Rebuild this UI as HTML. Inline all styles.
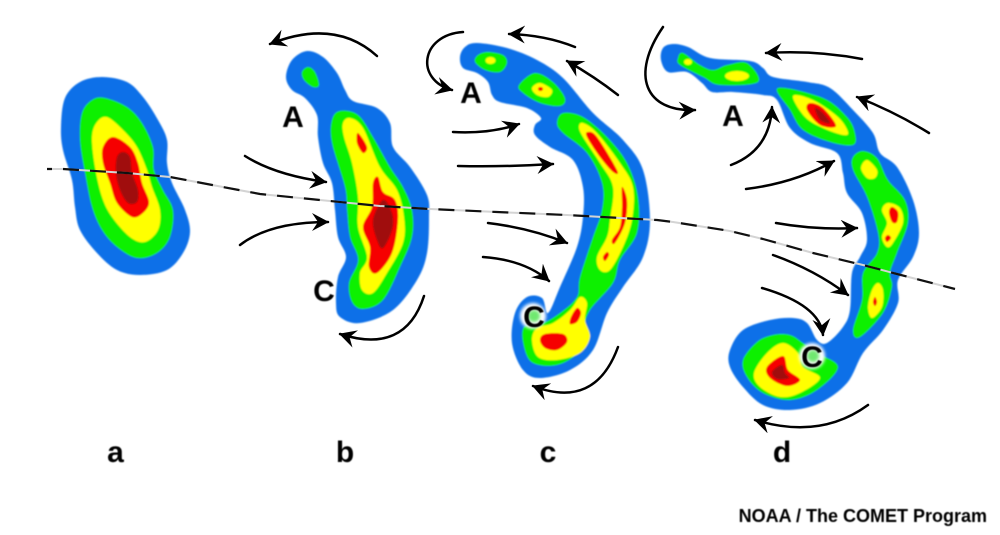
<!DOCTYPE html>
<html><head><meta charset="utf-8"><style>
html,body{margin:0;padding:0;background:#fff}
svg{display:block}
text{font-family:"Liberation Sans",sans-serif;font-weight:bold;fill:#000}
.B{fill:#0b6fe8}.G{fill:#08f000}.Y{fill:#ffff00}.R{fill:#f60000}.D{fill:#a00808}
.ar{fill:none;stroke:#000;stroke-width:2.5;marker-end:url(#h);stroke-linecap:round}
</style></head><body>
<svg id="s" width="1000" height="535" viewBox="0 0 1000 535" xmlns="http://www.w3.org/2000/svg">
<defs>
<marker id="h" markerUnits="userSpaceOnUse" markerWidth="22" markerHeight="22" refX="16" refY="9" orient="auto"><path d="M0,0 L17,9 L0,18 L6,9 Z" fill="#000"/></marker>
<filter id="f" x="-5%" y="-5%" width="110%" height="110%"><feGaussianBlur stdDeviation="0.9"/></filter>
<filter id="g" x="-50%" y="-50%" width="200%" height="200%"><feGaussianBlur stdDeviation="1.6"/></filter>
<filter id="t" x="-10%" y="-10%" width="120%" height="120%"><feGaussianBlur stdDeviation="0.45"/></filter>
</defs>
<rect width="1000" height="535" fill="#fff"/>
<g filter="url(#f)">
<!-- a -->
<polygon class="B" points="102,77 127,82 143,97 158,120 167,140 167,163 172,183 185,210 190,232 183,253 167,270 140,275 117,270 97,253 80,230 75,207 72,180 63,150 61,127 65,98 80,82"/>
<polygon class="G" points="105,98 127,107 142,123 153,147 154,170 163,190 173,210 170,237 157,253 137,258 117,247 102,230 92,207 85,173 80,140 82,113 92,100"/>
<polygon class="Y" points="107,117 123,130 137,147 147,170 152,187 160,210 158,230 145,242 130,237 112,217 102,197 95,167 92,137 97,122"/>
<polygon class="R" points="113,137 130,147 138,163 142,183 149,202 143,213 132,217 117,203 110,183 103,163 103,147"/>
<polygon class="D" points="123,152 130,157 132,173 138,190 137,202 128,203 120,190 116,173 117,157"/>
<!-- b -->
<polygon class="B" points="307,51 323,57 337,73 345,90 353,101 377,108 390,123 393,147 410,167 427,195 429,217 427,253 417,280 393,310 360,323 340,317 336,303 338,277 346,257 338,237 335,210 332,183 323,163 318,137 317,115 305,98 292,90 286,77 292,60"/>
<polygon class="G" points="308,67 315,72 319,85 313,87 304,80 302,72"/>
<polygon class="G" points="340,111 358,115 373,137 390,167 403,187 412,210 412,237 400,267 383,300 363,309 352,302 349,283 358,260 350,237 347,210 345,187 332,143 332,120"/>
<polygon class="Y" points="350,118 363,128 380,167 397,190 404,217 403,243 387,273 373,293 362,290 360,273 367,257 358,227 358,197 352,163 344,137 343,123"/>
<polygon class="R" points="358,133 367,147 363,153 357,143"/>
<polygon class="R" points="378,177 383,192 395,200 398,220 392,253 377,273 369,267 370,247 363,227 372,207 373,183"/>
<polygon class="D" points="383,200 392,213 392,230 383,248 377,240 373,220"/>
<!-- c -->
<polygon class="B" points="477,43 507,48 537,60 563,78 593,113 623,140 643,170 650,220 643,257 623,287 607,313 593,350 570,370 540,378 523,370 512,343 515,313 527,297 542,298 548,313 560,287 577,247 583,217 583,187 573,160 550,147 535,135 535,125 541,118 527,108 500,102 492,95 488,82 477,73 463,68 460,57 465,47"/>
<polygon class="G" points="488,52 503,55 507,63 500,72 485,70 475,62 478,55"/>
<ellipse class="Y" cx="490.5" cy="60.5" rx="5" ry="3.5"/>
<polygon class="G" points="535,73 553,82 565,98 560,106 540,103 523,93 519,85"/>
<polygon class="Y" points="540,83 552,90 548,97 537,95 532,88"/>
<ellipse class="R" cx="540.5" cy="89" rx="2.5" ry="2"/>
<polygon class="G" points="563,113 583,117 607,137 627,163 638,197 637,233 620,260 613,283 590,310 583,330 577,353 557,365 533,363 524,347 524,327 543,323 560,313 577,297 580,277 593,237 602,210 602,183 587,153 563,133 557,123"/>
<polygon class="Y" points="583,123 597,133 620,163 633,187 632,220 623,247 610,270 600,270 597,257 607,237 610,220 613,187 600,163 583,137 579,127"/>
<polygon class="R" points="588,132 597,137 617,170 613,172 600,157 587,137"/>
<polygon class="R" points="622,187 627,200 625,223 615,243 612,240 620,227 622,207"/>
<polygon class="R" points="607,252 609,255 605,261 603,257"/>
<polygon class="Y" points="580,297 587,303 585,320 590,337 580,353 557,360 538,357 532,340 537,328 553,323 570,310"/>
<polygon class="R" points="577,308 581,313 577,322 570,324 571,317"/>
<polygon class="R" points="545,334 563,334 567,342 557,350 545,348 540,340"/>
<!-- d -->
<polygon class="B" points="673,44 688,47 710,58 750,61 763,68 773,77 807,82 830,88 853,110 873,133 880,153 897,167 913,200 919,233 913,257 898,280 898,303 883,330 863,353 847,383 820,403 790,410 763,405 743,387 730,367 730,350 743,330 770,320 793,318 807,323 817,340 827,343 843,327 850,310 852,273 860,257 867,240 862,213 847,193 843,173 837,153 810,143 790,128 777,100 763,95 733,92 712,92 702,83 687,72 668,72 661,60 663,48"/>
<polygon class="G" points="683,53 700,65 713,70 727,65 747,63 758,82 720,85 703,77 680,65 678,58"/>
<ellipse class="Y" cx="688" cy="62" rx="4" ry="3"/>
<ellipse class="Y" cx="737" cy="76" rx="12" ry="5"/>
<polygon class="G" points="778,88 823,98 847,117 855,133 853,145 830,142 803,130 790,110"/>
<polygon class="Y" points="793,96 813,100 838,117 848,132 843,135 823,128 805,117"/>
<polygon class="R" points="810,103 823,108 836,126 820,125 807,110"/>
<polygon class="D" points="815,108 823,113 830,123 820,120"/>
<polygon class="G" points="863,151 877,158 888,180 905,200 908,223 897,253 890,273 892,287 883,313 860,337 853,330 862,300 863,273 877,253 878,233 867,197 853,170 853,157"/>
<polygon class="Y" points="867,160 877,170 875,178 867,178 861,168"/>
<polygon class="Y" points="888,203 900,208 903,223 893,243 887,247 882,237 887,223 882,210"/>
<polygon class="R" points="892,207 898,212 897,222 892,222 889,212"/>
<polygon class="R" points="888,235 891,238 887,242 885,238"/>
<polygon class="Y" points="878,283 883,290 882,307 872,318 868,307 872,290"/>
<polygon class="R" points="875,297 877,302 875,306 873,302"/>
<polygon class="G" points="790,335 803,343 817,353 838,367 817,390 790,400 763,393 747,377 743,360 757,342 773,335"/>
<polygon class="Y" points="783,343 798,353 803,367 820,378 800,393 780,397 760,387 754,373 767,353"/>
<polygon class="R" points="783,356 788,370 800,380 787,386 770,378 767,367"/>
<polygon class="D" points="782,365 785,373 789,378 777,379 772,372"/>
</g>
<!-- C glows -->
<circle cx="533" cy="316" r="13" fill="#fff" filter="url(#g)"/>
<circle cx="534" cy="316" r="6" fill="#6fe86f" filter="url(#g)"/>
<circle cx="812" cy="356" r="13" fill="#fff" filter="url(#g)"/>
<circle cx="813" cy="356" r="6" fill="#6fe86f" filter="url(#g)"/>
<!-- frontal line -->
<polyline points="47,169 63,169 127,173 170,177 260,194 330,201 380,206 430,209 497,212 567,215 620,218 657,220 673,222 730,231 763,239 813,253 863,265 897,274 955,289" fill="none" stroke="#d4d4d4" stroke-width="2" stroke-linejoin="round"/>
<polyline points="47,169 63,169 127,173 170,177 260,194 330,201 380,206 430,209 497,212 567,215 620,218 657,220 673,222 730,231 763,239 813,253 863,265 897,274 955,289" fill="none" stroke="#111" stroke-width="2.2" stroke-dasharray="16 11" stroke-dashoffset="-16" stroke-linejoin="round"/>
<!-- arrows -->
<g>
<path class="ar" d="M377,56 Q335,18 270,44"/>
<path class="ar" d="M245,156 Q275,175 326,182"/>
<path class="ar" d="M240,245 Q270,222 328,222"/>
<path class="ar" d="M424,296 Q405,355 340,334"/>
<path class="ar" d="M463,32 C420,35 415,80 452,90"/>
<path class="ar" d="M575,47 Q545,35 509,34"/>
<path class="ar" d="M618,95 Q595,77 567,61"/>
<path class="ar" d="M453,132 Q490,134 519,124"/>
<path class="ar" d="M458,166 Q505,167 553,164"/>
<path class="ar" d="M488,223 Q530,228 567,243"/>
<path class="ar" d="M483,257 Q525,260 549,281"/>
<path class="ar" d="M618,347 Q595,410 533,386"/>
<path class="ar" d="M663,27 C630,75 645,112 695,110"/>
<path class="ar" d="M862,59 Q815,50 766,53"/>
<path class="ar" d="M929,133 Q895,112 857,97"/>
<path class="ar" d="M731,165 Q770,150 772,107"/>
<path class="ar" d="M746,189 Q795,183 834,161"/>
<path class="ar" d="M776,223 Q815,230 857,228"/>
<path class="ar" d="M773,255 Q815,270 848,295"/>
<path class="ar" d="M762,288 Q820,305 823,335"/>
<path class="ar" d="M868,405 Q820,440 755,420"/>
</g>
<!-- labels -->
<g font-size="30" text-anchor="middle" filter="url(#t)">
<text x="293" y="127">A</text>
<text x="324" y="301">C</text>
<text x="471" y="103">A</text>
<text x="534" y="327">C</text>
<text x="733" y="126">A</text>
<text x="812" y="367">C</text>
<text x="115.5" y="462">a</text>
<text x="345" y="462">b</text>
<text x="548" y="462">c</text>
<text x="782" y="462">d</text>
<text x="987" y="522" font-size="18" text-anchor="end">NOAA / The COMET Program</text>
</g>
</svg>
<script>
document.querySelectorAll('#s polygon').forEach(function(p){
  var a=p.getAttribute('points').trim().split(/\s+/).map(function(t){return t.split(',').map(Number)}),n=a.length,d='M'+a[0];
  for(var i=0;i<n;i++){
    var p0=a[(i-1+n)%n],p1=a[i],p2=a[(i+1)%n],p3=a[(i+2)%n];
    d+=' C'+(p1[0]+(p2[0]-p0[0])/6).toFixed(1)+','+(p1[1]+(p2[1]-p0[1])/6).toFixed(1)+' '+(p2[0]-(p3[0]-p1[0])/6).toFixed(1)+','+(p2[1]-(p3[1]-p1[1])/6).toFixed(1)+' '+p2[0]+','+p2[1];
  }
  var e=document.createElementNS('http://www.w3.org/2000/svg','path');
  e.setAttribute('d',d+'Z');e.setAttribute('class',p.getAttribute('class'));
  p.parentNode.replaceChild(e,p);
});
</script>
</body></html>
